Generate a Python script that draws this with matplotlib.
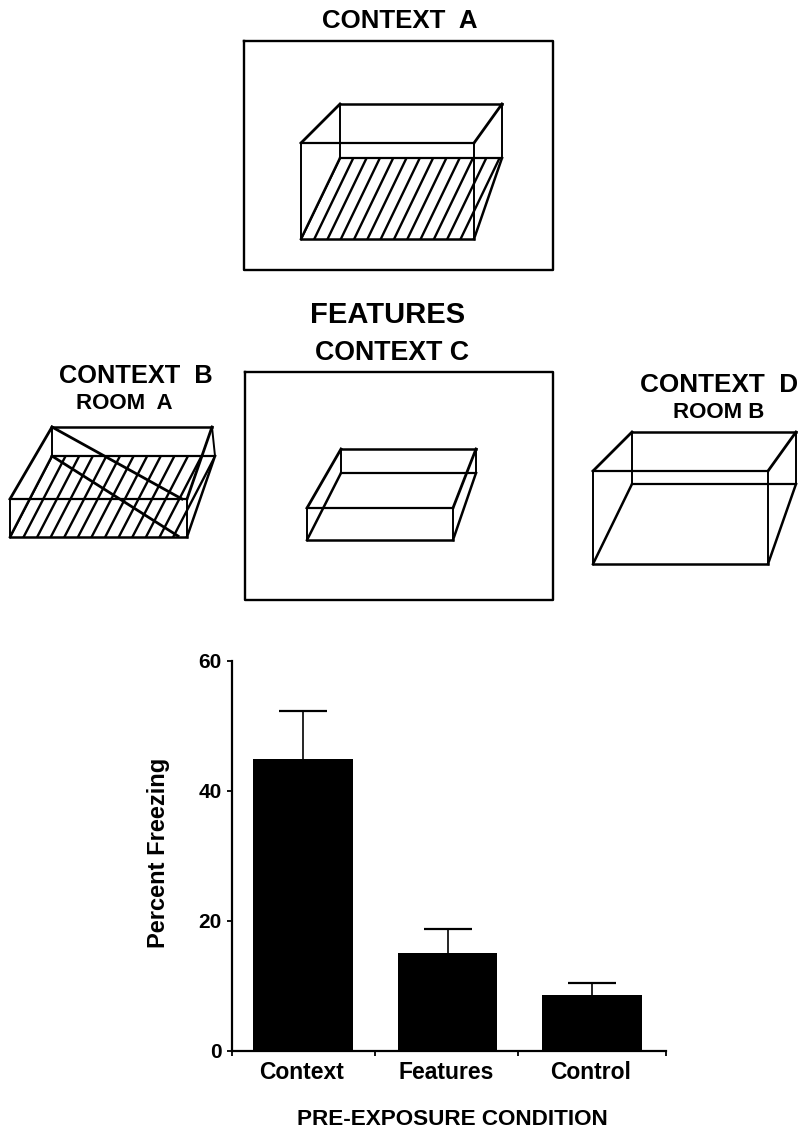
import matplotlib
matplotlib.use("Agg")
import matplotlib.pyplot as plt
from matplotlib.patches import Polygon

plt.rcParams['font.family'] = ['Liberation Sans', 'DejaVu Sans']
plt.rcParams['font.weight'] = 'bold'

W, H = 798, 1129

# bar chart data
conditions = ['Context', 'Features', 'Control']
freezing = [44.9, 15.1, 8.6]
freezing_err = [7.4, 3.7, 1.9]
y_ticks = [0, 20, 40, 60]

# diagram boxes, pixel coordinates: (x, y) corners
frame_a = (244, 41, 553, 270)
frame_c = (245, 372, 553, 600)

box_a = dict(back_top=[(340, 104), (502, 104)], back_floor=[(340, 158), (502, 158)],
             front_top=[(301, 143), (474, 143)], front_floor=[(301, 239), (474, 239)])
box_b = dict(back_top=[(52, 427), (212, 427)], back_floor=[(52, 456), (215, 456)],
             front_top=[(10, 499), (187, 499)], front_floor=[(10, 537), (187, 537)])
box_c = dict(back_top=[(341, 449), (476, 449)], back_floor=[(341, 473), (476, 473)],
             front_top=[(307, 508), (453, 508)], front_floor=[(307, 540), (453, 540)])
box_d = dict(back_top=[(632, 432), (796, 432)], back_floor=[(632, 484), (796, 484)],
             front_top=[(593, 471), (768, 471)], front_floor=[(593, 564), (768, 564)])

# extra crossing lines in context B
cross_b = [[(52, 427), (182, 499)], [(52, 456), (178, 536)]]

# text, centre x, baseline y, size
labels = [
    ('CONTEXT  A', 400, 28, 18.6),
    ('FEATURES', 388, 323, 21),
    ('CONTEXT C', 392, 360, 19.3),
    ('CONTEXT  B', 136, 383, 18.3),
    ('ROOM  A', 124, 409, 16),
    ('CONTEXT  D', 719, 392, 18.8),
    ('ROOM B', 719, 418, 16),
]

fig = plt.figure(figsize=(W / 100, H / 100), dpi=100)

# overlay in pixel coordinates for the drawings
ov = fig.add_axes([0, 0, 1, 1])
ov.set_xlim(0, W)
ov.set_ylim(H, 0)
ov.axis('off')


def seg(p, q, lw=1.6):
    ov.plot([p[0], q[0]], [p[1], q[1]], color='black', lw=lw, solid_capstyle='projecting')


def draw_box(box):
    bt, bf, ft, ff = box['back_top'], box['back_floor'], box['front_top'], box['front_floor']
    seg(bt[0], bt[1], 1.8)
    seg(bf[0], bf[1])
    seg(ft[0], ft[1])
    seg(ff[0], ff[1], 1.8)
    for i in range(2):
        seg(bt[i], bf[i], 1.4)
        seg(ft[i], ff[i], 1.4)
        seg(bt[i], ft[i], 2.0)
        seg(bf[i], ff[i], 1.8)


def draw_hatch(box, spacing, n):
    bf, ff = box['back_floor'], box['front_floor']
    clip = Polygon([ff[0], ff[1], bf[1], bf[0]], transform=ov.transData, fill=False, ec='none')
    ov.add_patch(clip)
    dx = bf[0][0] - ff[0][0]
    for i in range(n):
        x0 = ff[0][0] + i * spacing
        ln, = ov.plot([x0, x0 + dx], [ff[0][1], bf[0][1]], color='black', lw=1.7)
        ln.set_clip_path(clip)


def draw_frame(f):
    x0, y0, x1, y1 = f
    ov.plot([x0, x1, x1, x0, x0], [y0, y0, y1, y1, y0], color='black', lw=1.7)


draw_frame(frame_a)
draw_frame(frame_c)
for b in [box_a, box_b, box_c, box_d]:
    draw_box(b)
draw_hatch(box_a, 13.3, 17)
draw_hatch(box_b, 13.6, 16)
for c in cross_b:
    seg(c[0], c[1], 2.0)

for txt, x, y, size in labels:
    ov.text(x, y, txt, ha='center', va='baseline', fontsize=size, color='black')

# bar chart
ax = fig.add_axes([232 / W, 1 - 1051 / H, (666 - 232) / W, (1051 - 661) / H])
ax.patch.set_alpha(0)
pos = [i + 0.49 for i in range(len(conditions))]
tops = [v + e for v, e in zip(freezing, freezing_err)]
ax.bar(pos, freezing, width=0.69, color='black')
ax.vlines(pos, freezing, tops, color='black', lw=1.2)
ax.plot(pos, tops, linestyle='none', marker='_', ms=35, mew=1.6, color='black')
ax.set_xlim(0, 3)
ax.set_ylim(0, 60)
ax.set_yticks(y_ticks)
ax.set_xticks([0, 0.99, 1.98, 3])
ax.set_xticklabels([])
ax.set_xticks([p - 0.01 for p in pos], minor=True)
ax.set_xticklabels(conditions, minor=True, fontsize=16.5)
ax.tick_params(axis='x', which='minor', length=0, pad=7)
ax.tick_params(axis='x', which='major', length=3.5, width=1.3)
ax.tick_params(axis='y', length=3.6, width=1.3, labelsize=15, pad=4)
for s in ['top', 'right']:
    ax.spines[s].set_visible(False)
for s in ['left', 'bottom']:
    ax.spines[s].set_linewidth(1.6)

ov.text(159, 853, 'Percent Freezing', rotation=90, ha='center', va='center', fontsize=17)
ov.text(452, 1125, 'PRE-EXPOSURE CONDITION', ha='center', va='baseline', fontsize=16.2)

fig.savefig('out.png', dpi=100)
